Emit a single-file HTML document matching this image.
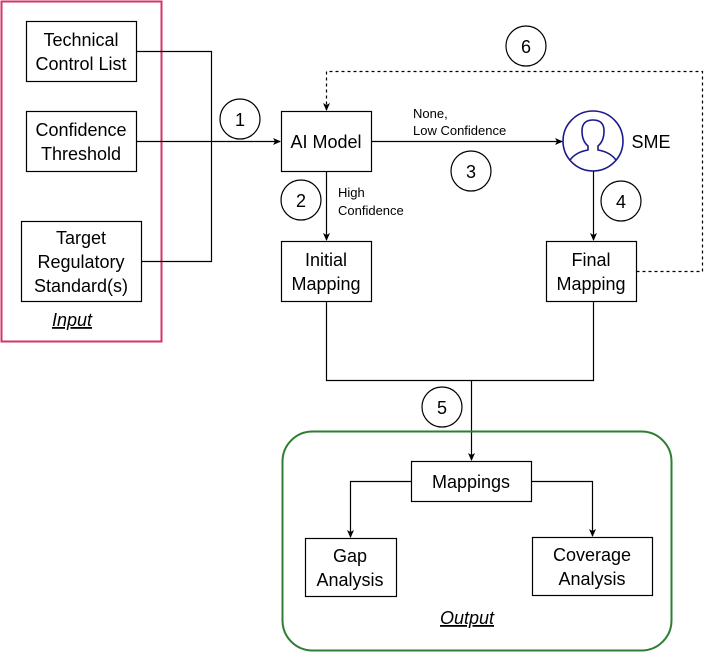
<!DOCTYPE html>
<html><head><meta charset="utf-8"><style>
html,body{margin:0;padding:0;background:#fff;}
svg{display:block;font-family:"Liberation Sans",Arial,sans-serif;}
</style></head><body>
<svg width="710" height="652" viewBox="0 0 710 652" xmlns="http://www.w3.org/2000/svg">
<defs>
<marker id="ar" markerWidth="8" markerHeight="8" refX="7" refY="4" orient="auto" markerUnits="userSpaceOnUse">
<path d="M0,0.5 L8,4 L0,7.5 L2,4 Z" fill="#000"/>
</marker>
</defs>
<g fill="none" stroke="#000" stroke-width="1.2">
<rect x="1.5" y="1.5" width="160" height="340" stroke="#d6336c" stroke-width="2"/>
<rect x="26.5" y="21.5" width="110" height="60"/>
<rect x="26.5" y="111.5" width="110" height="60"/>
<rect x="21.5" y="221.5" width="120" height="80"/>
<polyline points="136.5,51.5 211.5,51.5 211.5,261.5 141.5,261.5"/>
<line x1="136.5" y1="141.5" x2="280" y2="141.5" marker-end="url(#ar)"/>
<circle cx="240" cy="119" r="20"/>
<rect x="281.5" y="111.5" width="90" height="60"/>
<line x1="326.5" y1="171.5" x2="326.5" y2="240" marker-end="url(#ar)"/>
<circle cx="301" cy="200" r="20"/>
<rect x="281.5" y="241.5" width="90" height="60"/>
<line x1="371.5" y1="141.5" x2="562" y2="141.5" marker-end="url(#ar)"/>
<circle cx="471" cy="171" r="20"/>
<circle cx="593" cy="141" r="30" stroke="#1a1a8c" stroke-width="1.6"/>
<path d="M570,160 Q576,152 588,150 L588,146 Q582,141 582,131 Q582,120 593,120 Q604,120 604,131 Q604,141 598,146 L598,150 Q610,152 616,160" stroke="#1a1a8c" stroke-width="1.6"/>
<line x1="593.5" y1="171" x2="593.5" y2="240" marker-end="url(#ar)"/>
<circle cx="621" cy="201" r="20"/>
<rect x="546.5" y="241.5" width="90" height="60"/>
<polyline points="636.5,271.5 702.5,271.5 702.5,71.5 326.5,71.5 326.5,110" stroke-dasharray="3,3" marker-end="url(#ar)"/>
<circle cx="526" cy="46" r="20"/>
<polyline points="326.5,301.5 326.5,380.5 593.5,380.5 593.5,301.5"/>
<line x1="471.5" y1="380.5" x2="471.5" y2="460" marker-end="url(#ar)"/>
<circle cx="442" cy="407" r="20"/>
<rect x="282.5" y="431.5" width="389" height="219" rx="30" stroke="#2e7d32" stroke-width="2"/>
<rect x="411.5" y="461.5" width="120" height="40"/>
<polyline points="411.5,481.5 350.5,481.5 350.5,537" marker-end="url(#ar)"/>
<polyline points="531.5,481.5 592.5,481.5 592.5,536" marker-end="url(#ar)"/>
<rect x="305.5" y="538.5" width="91" height="58"/>
<rect x="532.5" y="537.5" width="120" height="58"/>
</g>
<g font-size="18" fill="#000" text-anchor="middle">
<text x="81" y="46">Technical</text>
<text x="81" y="70">Control List</text>
<text x="81" y="136">Confidence</text>
<text x="81" y="160">Threshold</text>
<text x="81" y="244">Target</text>
<text x="81" y="268">Regulatory</text>
<text x="81" y="292">Standard(s)</text>
<text x="72" y="326" font-style="italic" text-decoration="underline">Input</text>
<text x="326" y="148">AI Model</text>
<text x="326" y="266">Initial</text>
<text x="326" y="290">Mapping</text>
<text x="591" y="266">Final</text>
<text x="591" y="290">Mapping</text>
<text x="651" y="148">SME</text>
<text x="471" y="488">Mappings</text>
<text x="350" y="562">Gap</text>
<text x="350" y="586">Analysis</text>
<text x="592" y="561">Coverage</text>
<text x="592" y="585">Analysis</text>
<text x="467" y="624" font-style="italic" text-decoration="underline">Output</text>
<text x="240" y="126">1</text>
<text x="301" y="207">2</text>
<text x="471" y="178">3</text>
<text x="621" y="208">4</text>
<text x="442" y="414">5</text>
<text x="526" y="53">6</text>
</g>
<g font-size="13" fill="#000">
<text x="338" y="197">High</text>
<text x="338" y="215">Confidence</text>
<text x="413" y="118">None,</text>
<text x="413" y="135">Low Confidence</text>
</g>
</svg>
</body></html>
